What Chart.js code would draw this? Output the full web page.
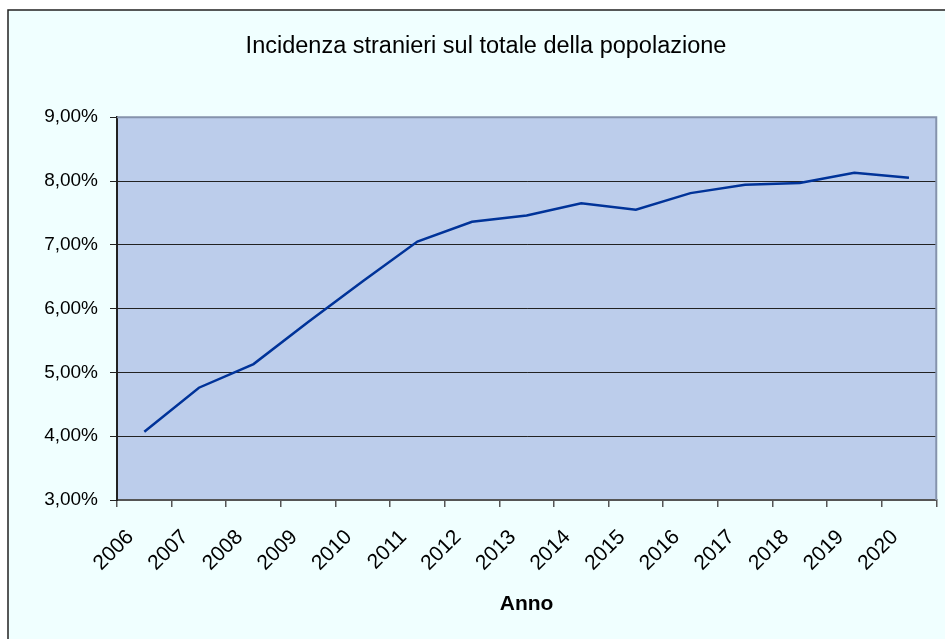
<!DOCTYPE html>
<html>
<head>
<meta charset="utf-8">
<script src="https://cdn.jsdelivr.net/npm/chart.js@4.4.1/dist/chart.umd.min.js"></script>
<style>
  html, body { margin: 0; padding: 0; background: #fff; }
  #wrap { width: 945px; height: 639px; }
</style>
</head>
<body>
<div id="wrap"><canvas id="grafico" width="945" height="639"></canvas></div>
<script>
// dati
const anni = ['2006', '2007', '2008', '2009', '2010', '2011', '2012', '2013', '2014', '2015', '2016', '2017', '2018', '2019', '2020'];
const incidenza = [4.07, 4.76, 5.13, 5.79, 6.43, 7.05, 7.36, 7.46, 7.65, 7.55, 7.81, 7.94, 7.97, 8.13, 8.05];
const tickY = [3, 4, 5, 6, 7, 8, 9];

const FONT = "'Liberation Sans', Arial, Helvetica, sans-serif";

// sfondo stile Excel: cornice, area del grafico azzurra, area del tracciato lilla
const sfondo = {
    id: 'sfondo',
    beforeDraw(chart) {
        const { ctx, chartArea: a, width, height } = chart;
        ctx.save();
        ctx.fillStyle = '#ffffff';
        ctx.fillRect(0, 0, width, height);
        ctx.fillStyle = '#F0FFFF';
        ctx.fillRect(8, 10, width, height);
        ctx.strokeStyle = '#222222';
        ctx.lineWidth = 1.5;
        ctx.beginPath();
        ctx.moveTo(8, height);
        ctx.lineTo(8, 10);
        ctx.lineTo(width, 10);
        ctx.stroke();
        ctx.fillStyle = '#BCCDEB';
        ctx.fillRect(a.left, a.top, a.width, a.height);
        ctx.restore();
    },
    beforeDatasetsDraw(chart) {
        const { ctx, chartArea: a } = chart;
        ctx.save();
        ctx.strokeStyle = '#8593AC';
        ctx.lineWidth = 2;
        ctx.beginPath();
        ctx.moveTo(a.left, a.top);
        ctx.lineTo(a.right, a.top);
        ctx.lineTo(a.right, a.bottom);
        ctx.stroke();
        ctx.restore();
    }
};

new Chart(document.getElementById('grafico'), {
    type: 'line',
    data: {
        labels: anni,
        datasets: [{
            label: 'Incidenza stranieri',
            data: incidenza,
            borderColor: '#003399',
            borderWidth: 2.5,
            pointRadius: 0,
            tension: 0,
            fill: false
        }]
    },
    options: {
        responsive: false,
        animation: false,
        layout: { padding: { left: 34, right: 7, top: 10, bottom: 0 } },
        plugins: {
            legend: { display: false },
            tooltip: { enabled: false },
            title: {
                display: true,
                text: 'Incidenza stranieri sul totale della popolazione',
                color: '#000',
                font: { family: FONT, size: 23.5, weight: 'normal' },
                padding: { top: 22, bottom: 57 }
            }
        },
        scales: {
            x: {
                offset: true,
                afterFit: (s) => { s.height = 139; },
                grid: { offset: true, drawOnChartArea: false, drawTicks: true, tickLength: 7, color: '#555', lineWidth: 1.5 },
                border: { display: true, color: '#555', width: 2 },
                ticks: {
                    autoSkip: false,
                    minRotation: 45,
                    maxRotation: 45,
                    padding: 18,
                    labelOffset: -14,
                    color: '#000',
                    font: { family: FONT, size: 21 }
                },
                title: {
                    display: true,
                    text: 'Anno',
                    color: '#000',
                    font: { family: FONT, size: 21, weight: 'bold' },
                    padding: { top: 0, bottom: 22 }
                }
            },
            y: {
                min: 3,
                max: 9,
                afterFit: (s) => { s.width = 83; },
                afterBuildTicks: (s) => { s.ticks = tickY.map(v => ({ value: v })); },
                grid: { color: '#222', lineWidth: 1, tickLength: 7 },
                border: { display: true, color: '#222', width: 2 },
                ticks: {
                    padding: 12,
                    color: '#000',
                    font: { family: FONT, size: 19 },
                    callback: (v) => v.toFixed(2).replace('.', ',') + '%'
                }
            }
        }
    },
    plugins: [sfondo]
});
</script>
</body>
</html>
